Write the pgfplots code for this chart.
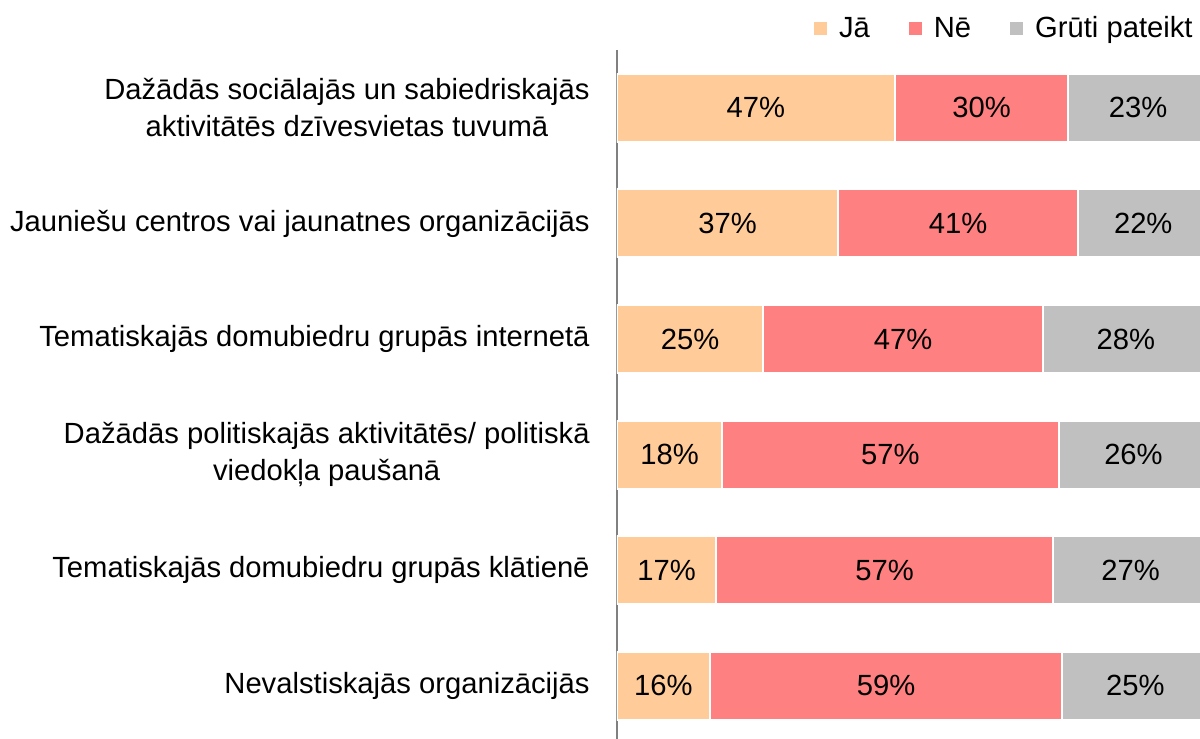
\documentclass[border=0pt]{standalone}
\usepackage{pgfplots}
\usepackage{pgfplotstable}
\pgfplotsset{compat=1.18}
\usepackage{fontspec}
\setmainfont{Liberation Sans}
\definecolor{ja}{HTML}{FFCC99}
\definecolor{ne}{HTML}{FF8080}
\definecolor{gp}{HTML}{C0C0C0}
\definecolor{axisgray}{HTML}{808080}
\pgfplotstableread{
y x
0 47.0
1 37.4
2 24.7
3 17.8
4 16.8
5 15.7
}\tja
\pgfplotstableread{
y x
0 29.3
1 40.6
2 47.4
3 56.9
4 56.9
5 59.6
}\tne
\pgfplotstableread{
y x
0 23.7
1 22.0
2 27.9
3 25.3
4 26.3
5 24.7
}\tgp
% label positions (segment centres) and label texts
\pgfplotstableread{
y x lab
0 23.5 47\%
1 18.7 37\%
2 12.35 25\%
3 8.9 18\%
4 8.4 17\%
5 7.85 16\%
0 61.65 30\%
1 57.7 41\%
2 48.4 47\%
3 46.25 57\%
4 45.25 57\%
5 45.5 59\%
0 88.15 23\%
1 89.0 22\%
2 86.05 28\%
3 87.35 26\%
4 86.85 27\%
5 87.65 25\%
}\tlab
\pgfplotsset{
  common/.style={
    scale only axis,
    width=291.5pt, height=344.5pt,
    xmin=0, xmax=98.6,
    ymin=-0.5, ymax=5.46,
    y dir=reverse,
  }
}
\begin{document}
\begin{tikzpicture}
\begin{axis}[
  common,
  name=ax,
  xbar stacked,
  bar width=0.588,
  separate axis lines,
  axis x line=none,
  axis y line=left,
  y axis line style={-, draw=axisgray, line width=0.9pt},
  ytick={0,1,2,3,4,5},
  yticklabels={
    {Dažādās sociālajās un sabiedriskajās\\aktivitātēs dzīvesvietas tuvumā},
    {Jauniešu centros vai jaunatnes organizācijās},
    {Tematiskajās domubiedru grupās internetā},
    {Dažādās politiskajās aktivitātēs/ politiskā\\viedokļa paušanā},
    {Tematiskajās domubiedru grupās klātienē},
    {Nevalstiskajās organizācijās}},
  major tick length=0pt,
  yticklabel style={align=center, inner sep=0pt, xshift=-13.5pt,
    font=\fontsize{14.6}{18.5}\selectfont},
  legend style={at={(1,1)}, anchor=south east, xshift=1.5pt, yshift=0.5pt,
    draw=none, fill=none, legend columns=3,
    font=\fontsize{14.6}{18}\selectfont,
    /tikz/every even column/.append style={column sep=16.5pt},
    /tikz/every odd column/.append style={column sep=3pt}},
  legend image code/.code={\fill[#1] (0pt,-3.75pt) rectangle (7.5pt,3.75pt);},
  legend cell align=left,
]
\addplot[fill=ja, draw=white, line width=1pt] table[x=x, y=y] {\tja};
\addplot[fill=ne, draw=white, line width=1pt] table[x=x, y=y] {\tne};
\addplot[fill=gp, draw=white, line width=1pt] table[x=x, y=y] {\tgp};
\legend{Jā, Nē, Grūti pateikt}
\end{axis}
\begin{axis}[
  common,
  hide axis,
]
\addplot[only marks, mark size=0pt, point meta=explicit symbolic,
  nodes near coords,
  every node near coord/.append style={anchor=center, text=black,
    font=\fontsize{14.6}{18}\selectfont}]
  table[x=x, y=y, meta=lab] {\tlab};
\end{axis}
\pgfresetboundingbox
\path[use as bounding box] ([xshift=-308.5pt]ax.south west) rectangle ([yshift=25pt]ax.north east);
\end{tikzpicture}
\end{document}
